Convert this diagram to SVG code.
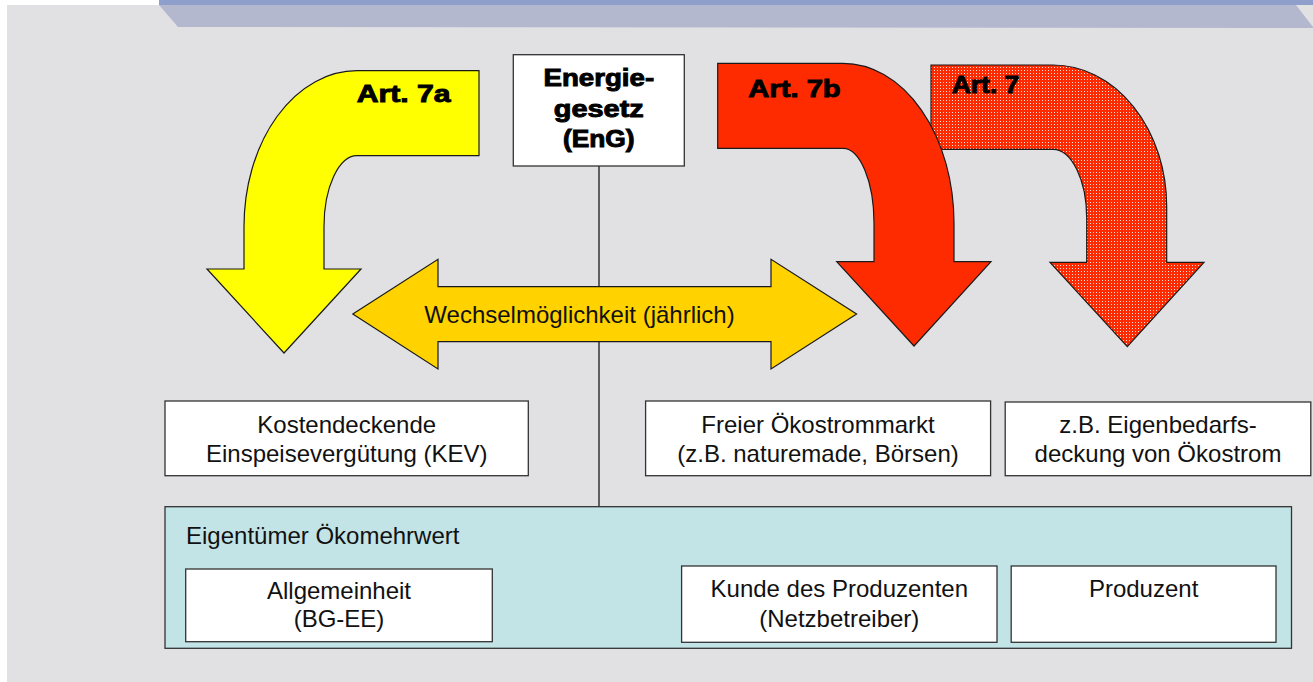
<svg xmlns="http://www.w3.org/2000/svg" width="1313" height="682" viewBox="0 0 1313 682">
<defs>
<pattern id="dots" width="3" height="3" patternUnits="userSpaceOnUse">
<rect width="3" height="3" fill="#ff2b00"/>
<rect x="1" y="1" width="1" height="1" fill="#ffffff" fill-opacity="0.85"/>
</pattern>
<style>
.arrow{stroke:#1a1a1a;stroke-width:1.2;stroke-linejoin:miter}
.box{fill:#ffffff;stroke:#333333;stroke-width:1.3}
.t{font-family:"Liberation Sans",Arial,sans-serif;font-size:24px;fill:#111111}
.c{text-anchor:middle}
.b{font-family:"Liberation Sans",Arial,sans-serif;font-size:23px;font-weight:bold;fill:#000;stroke:#000;stroke-width:0.9}
</style>
</defs>
<rect x="0" y="0" width="1313" height="682" fill="#ffffff"/>
<rect x="7" y="5" width="1306" height="677" fill="#e1e1e4"/>
<g id="banner">
<polygon points="159,5 1296,5 1313,27 1313,28 178,27" fill="#b3b8cf"/>
<rect x="159" y="0" width="1154" height="5" fill="#8e9fcc"/>
</g>
<g id="connectors">
<line x1="599" y1="166" x2="599" y2="507" stroke="#1a1a1a" stroke-width="1.3"/>
</g>
<g id="arrow-7a">
<path class="arrow" fill="#ffff00" d="M 244 269 L 244 227 A 113 156 0 0 1 357 70.7 L 479 70.7 L 479 155.7 L 357 155.7 A 33 71 0 0 0 324 227 L 324 269 L 361 269 L 284 353 L 207 269 Z"/>
<text class="b" x="356.7" y="101.7" textLength="94" lengthAdjust="spacingAndGlyphs">Art. 7a</text>
</g>
<g id="arrow-7">
<path class="arrow" fill="url(#dots)" d="M 931 65 L 1053 65 A 113.7 141.7 0 0 1 1166.7 206.7 L 1166.7 262.3 L 1204 262.3 L 1127.3 346.7 L 1050 262.3 L 1086.7 262.3 L 1086.7 218 A 33.7 68.7 0 0 0 1053 149.3 L 931 149.3 Z"/>
<text class="b" x="951.7" y="93.3" textLength="67.6" lengthAdjust="spacingAndGlyphs">Art. 7</text>
</g>
<g id="arrow-7b">
<path class="arrow" fill="#ff2b00" d="M 717.7 63.3 L 843 63.3 A 111 160 0 0 1 954 223 L 954 261.7 L 991 261.7 L 914 346 L 836.7 261.7 L 874 261.7 L 874 223 A 31 74.7 0 0 0 843 148.3 L 717.7 148.3 Z"/>
<text class="b" x="748.3" y="96.7" textLength="92.4" lengthAdjust="spacingAndGlyphs">Art. 7b</text>
</g>
<g id="energiegesetz">
<rect class="box" x="513.3" y="54.7" width="171" height="111.3"/>
<text class="b c" x="598.8" y="86" textLength="110.7" lengthAdjust="spacingAndGlyphs">Energie-</text>
<text class="b c" x="598.8" y="116.7" textLength="90" lengthAdjust="spacingAndGlyphs">gesetz</text>
<text class="b c" x="598.8" y="146.5" textLength="71.7" lengthAdjust="spacingAndGlyphs">(EnG)</text>
</g>
<g id="wechsel">
<path class="arrow" fill="#ffd200" d="M 352.8 314 L 438 259.3 L 438 286.7 L 771 286.7 L 771 259.3 L 856.6 314 L 771 369 L 771 341.7 L 438 341.7 L 438 369 Z"/>
<text class="t c" x="579.5" y="322.7">Wechselmöglichkeit (jährlich)</text>
</g>
<g id="kev">
<rect class="box" x="165" y="401" width="363.3" height="74.7"/>
<text class="t c" x="346.7" y="432.7">Kostendeckende</text>
<text class="t c" x="346.7" y="461.7">Einspeisevergütung (KEV)</text>
</g>
<g id="oekostrommarkt">
<rect class="box" x="645.6" y="401" width="345" height="74.7"/>
<text class="t c" x="818" y="432.7">Freier Ökostrommarkt</text>
<text class="t c" x="818" y="461.7">(z.B. naturemade, Börsen)</text>
</g>
<g id="eigenbedarf">
<rect class="box" x="1005.2" y="402" width="305.6" height="73.7"/>
<text class="t c" x="1158" y="432.7">z.B. Eigenbedarfs-</text>
<text class="t c" x="1158" y="461.7">deckung von Ökostrom</text>
</g>
<g id="eigentuemer">
<rect x="165" y="506.7" width="1126.5" height="141.6" fill="#c3e4e6" stroke="#333333" stroke-width="1.3"/>
<text class="t" x="186" y="544">Eigentümer Ökomehrwert</text>
</g>
<g id="allgemeinheit">
<rect class="box" x="185.7" y="569" width="306.6" height="72.7"/>
<text class="t c" x="339" y="599">Allgemeinheit</text>
<text class="t c" x="339" y="627.3">(BG-EE)</text>
</g>
<g id="kunde">
<rect class="box" x="681.6" y="566" width="315.4" height="76.3"/>
<text class="t c" x="839.3" y="597.3">Kunde des Produzenten</text>
<text class="t c" x="839.3" y="626.7">(Netzbetreiber)</text>
</g>
<g id="produzent">
<rect class="box" x="1011.2" y="566" width="264.8" height="76.3"/>
<text class="t c" x="1143.6" y="597.3">Produzent</text>
</g>
</svg>
